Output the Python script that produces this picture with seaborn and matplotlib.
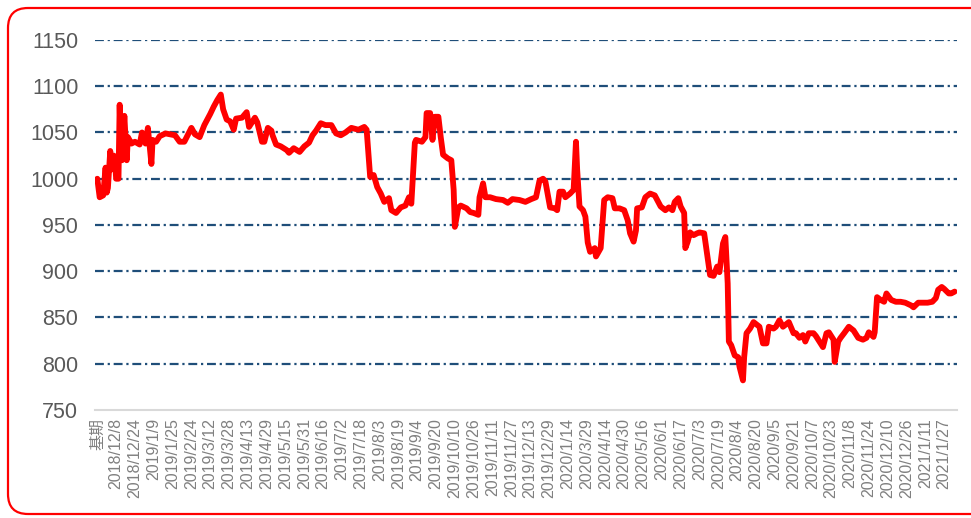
import matplotlib
matplotlib.use("Agg")
import matplotlib.pyplot as plt
import seaborn as sns
import pandas as pd
from matplotlib.patches import FancyBboxPatch

# day index (trading-day count from the base period) and index level
day = [0, 2, 5, 7, 8, 9, 11, 12, 14, 15, 16, 18, 19, 20, 21, 23, 25, 26, 29, 32,
       36, 38, 41, 43, 46, 47, 50, 53, 58, 62, 66, 70, 74, 80, 83, 87, 91, 96, 99, 102,
       105, 107, 110, 113, 116, 118, 123, 127, 129, 134, 136, 140, 142, 145, 148, 149, 152, 156, 161, 163,
       167, 172, 176, 180, 183, 186, 190, 194, 199, 203, 207, 211, 216, 222, 227, 229, 232, 235, 238, 241,
       244, 248, 250, 254, 258, 262, 265, 267, 270, 271, 276, 279, 280, 283, 285, 287, 290, 292, 294, 298,
       301, 303, 304, 307, 309, 314, 317, 320, 324, 325, 328, 330, 334, 339, 345, 349, 353, 359, 364, 369,
       373, 376, 379, 381, 385, 389, 391, 393, 396, 398, 402, 405, 407, 408, 410, 413, 415, 417, 419, 423,
       424, 428, 431, 434, 438, 440, 444, 448, 451, 453, 456, 458, 459, 463, 466, 470, 474, 479, 483, 486,
       489, 491, 494, 496, 499, 500, 502, 504, 507, 510, 512, 516, 518, 521, 524, 527, 529, 532, 534, 536,
       537, 539, 542, 545, 546, 549, 550, 552, 555, 558, 561, 563, 566, 569, 571, 575, 577, 580, 583, 586,
       588, 592, 594, 597, 600, 602, 605, 609, 611, 614, 617, 620, 622, 626, 627, 630, 632, 635, 639, 643,
       647, 651, 654, 656, 660, 661, 663, 666, 669, 671, 675, 679, 683, 687, 692, 694, 698, 702, 706, 710,
       713, 715, 718, 720, 724, 726, 729]
level = [1000, 980, 982, 1012, 985, 990, 1030, 1010, 1025, 1020, 1000, 1000, 1080, 1030, 1020, 1068, 1020, 1045, 1038, 1040,
         1037, 1050, 1038, 1055, 1016, 1042, 1040, 1046, 1049, 1048, 1047, 1040, 1040, 1055, 1048, 1045, 1058, 1070, 1078, 1085,
         1091, 1075, 1064, 1062, 1053, 1065, 1066, 1072, 1056, 1066, 1061, 1040, 1040, 1055, 1052, 1047, 1037, 1035, 1031, 1028,
         1033, 1029, 1035, 1039, 1047, 1052, 1060, 1058, 1058, 1049, 1047, 1050, 1055, 1053, 1056, 1053, 1002, 1004, 991, 984,
         975, 979, 966, 963, 969, 971, 980, 973, 1039, 1042, 1040, 1045, 1071, 1071, 1042, 1067, 1067, 1045, 1026, 1022,
         1020, 988, 948, 969, 971, 968, 964, 963, 961, 980, 995, 980, 980, 978, 977, 974, 978, 977, 975, 978,
         980, 998, 1000, 997, 969, 968, 966, 986, 986, 980, 984, 988, 1040, 1010, 970, 966, 959, 931, 921, 925,
         916, 925, 977, 980, 979, 968, 968, 966, 955, 941, 932, 944, 968, 969, 980, 984, 982, 970, 966, 969,
         966, 975, 979, 970, 963, 925, 932, 942, 939, 941, 942, 941, 923, 896, 895, 905, 899, 930, 937, 887,
         824, 820, 809, 807, 797, 782, 807, 833, 838, 845, 842, 840, 822, 822, 840, 838, 840, 847, 840, 843,
         845, 833, 833, 828, 831, 824, 833, 833, 830, 824, 818, 833, 834, 826, 802, 824, 828, 833, 840, 836,
         828, 826, 828, 834, 829, 834, 872, 869, 867, 876, 869, 867, 867, 866, 863, 861, 866, 866, 866, 867,
         871, 880, 883, 881, 876, 876, 878]

# category labels shown on the axis, one every 16 points
tick_labels = ["基期", "2018/12/8", "2018/12/24", "2019/1/9", "2019/1/25", "2019/2/24", "2019/3/12",
               "2019/3/28", "2019/4/13", "2019/4/29", "2019/5/15", "2019/5/31", "2019/6/16", "2019/7/2",
               "2019/7/18", "2019/8/3", "2019/8/19", "2019/9/4", "2019/9/20", "2019/10/10", "2019/10/26",
               "2019/11/11", "2019/11/27", "2019/12/13", "2019/12/29", "2020/1/14", "2020/3/29", "2020/4/14",
               "2020/4/30", "2020/5/16", "2020/6/1", "2020/6/17", "2020/7/3", "2020/7/19", "2020/8/4",
               "2020/8/20", "2020/9/5", "2020/9/21", "2020/10/7", "2020/10/23", "2020/11/8", "2020/11/24",
               "2020/12/10", "2020/12/26", "2021/1/11", "2021/1/27"]
y_ticks = [750, 800, 850, 900, 950, 1000, 1050, 1100, 1150]

df = pd.DataFrame({"day": day, "level": level})

sns.set_style("white")
plt.rcParams["font.family"] = ["Liberation Sans", "Noto Sans CJK SC", "DejaVu Sans"]

fig = plt.figure(figsize=(9.71, 5.18), dpi=100)
ax = fig.add_axes([0.0978, 0.2085, 0.8878, 0.7143])

for yv in y_ticks[1:]:
    ax.axhline(yv, color="#1f4e79", lw=1.6, linestyle=(0, (4, 1.7, 1, 1.7)), zorder=1)

sns.lineplot(data=df, x="day", y="level", color="#ff0000", lw=4.2, ax=ax, zorder=3)

ax.set_xlim(-2, 731)
ax.set_ylim(750, 1150)
ax.set_yticks(y_ticks)
ax.set_yticklabels([str(v) for v in y_ticks], fontsize=15.5, color="#595959")
ax.set_xticks(range(0, 16 * len(tick_labels), 16))
ax.set_xticklabels(tick_labels, rotation=90, fontsize=11.5, color="#808080")
ax.tick_params(axis="both", length=0)
ax.tick_params(axis="y", pad=12)
ax.tick_params(axis="x", pad=6)
ax.set_xlabel("")
ax.set_ylabel("")
for side in ["top", "right", "left"]:
    ax.spines[side].set_visible(False)
ax.spines["bottom"].set_color("#d9d9d9")
ax.spines["bottom"].set_linewidth(1.5)

# rounded red frame around the chart (right side runs off the picture)
frame = FancyBboxPatch((0.08, 0.04), 10.0, 5.06,
                       boxstyle="round,pad=0,rounding_size=0.2", transform=fig.dpi_scale_trans,
                       facecolor="none", edgecolor="#ff0000", lw=1.6)
fig.patches.append(frame)

fig.savefig("out.png", dpi=100)
